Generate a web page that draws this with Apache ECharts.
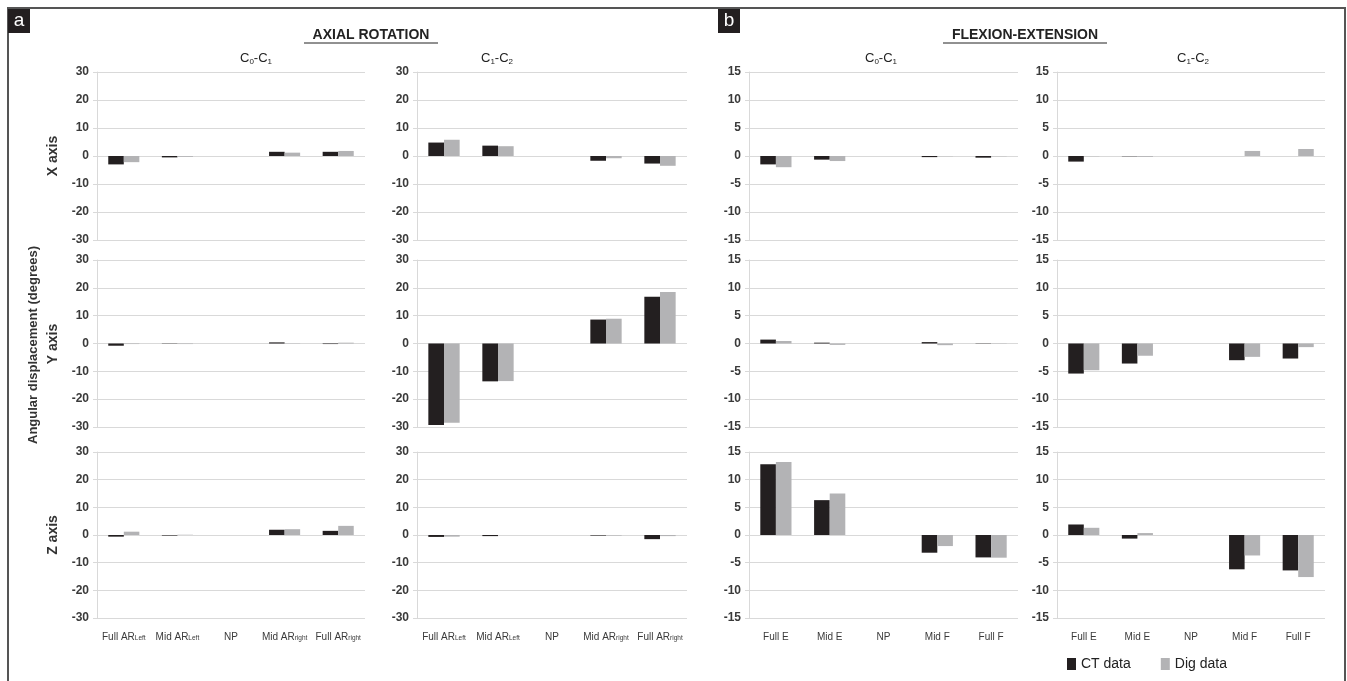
<!DOCTYPE html>
<html>
<head>
<meta charset="utf-8">
<script src="https://cdn.jsdelivr.net/npm/echarts@6/dist/echarts.min.js"></script>
<style>
html, body { margin: 0; padding: 0; background: #fff; }
#chart { width: 1347px; height: 681px; }
</style>
</head>
<body>
<div id="chart"></div>
<script>
// categories
var arCategories = ['Full AR_Left', 'Mid AR_Left', 'NP', 'Mid AR_right', 'Full AR_right']
var feCategories = ['Full E', 'Mid E', 'NP', 'Mid F', 'Full F']

// axial rotation, C0-C1
var arC01X_ct = [-3.0, -0.5, 0, 1.5, 1.5]
var arC01X_dig = [-2.2, -0.3, 0, 1.2, 1.8]
var arC01Y_ct = [-0.8, 0.1, 0, 0.4, -0.2]
var arC01Y_dig = [-0.2, -0.2, 0, -0.1, 0.3]
var arC01Z_ct = [-0.6, -0.2, 0, 1.9, 1.5]
var arC01Z_dig = [1.2, 0.1, 0, 2.1, 3.3]

// axial rotation, C1-C2
var arC12X_ct = [4.8, 3.7, 0, -1.7, -2.7]
var arC12X_dig = [5.8, 3.5, 0, -0.8, -3.5]
var arC12Y_ct = [-29.3, -13.6, 0, 8.6, 16.8]
var arC12Y_dig = [-28.5, -13.5, 0, 8.9, 18.5]
var arC12Z_ct = [-0.7, -0.4, 0, -0.2, -1.5]
var arC12Z_dig = [-0.6, 0, 0, -0.2, -0.4]

// flexion-extension, C0-C1
var feC01X_ct = [-1.5, -0.65, 0, -0.2, -0.3]
var feC01X_dig = [-2.0, -0.9, 0, -0.05, -0.05]
var feC01Y_ct = [0.7, 0.15, 0, 0.25, -0.05]
var feC01Y_dig = [0.45, -0.25, 0, -0.3, -0.05]
var feC01Z_ct = [12.8, 6.3, 0, -3.2, -4.05]
var feC01Z_dig = [13.2, 7.5, 0, -2.0, -4.1]

// flexion-extension, C1-C2
var feC12X_ct = [-1.0, -0.05, 0, 0, 0]
var feC12X_dig = [-0.05, -0.15, 0, 0.9, 1.25]
var feC12Y_ct = [-5.4, -3.6, 0, -3.0, -2.7]
var feC12Y_dig = [-4.8, -2.2, 0, -2.4, -0.65]
var feC12Z_ct = [1.9, -0.65, 0, -6.2, -6.4]
var feC12Z_dig = [1.3, 0.35, 0, -3.7, -7.6]

var CT_COLOR = '#231f20'
var DIG_COLOR = '#b3b3b5'
var GRID_COLOR = '#d9d9d9'
var TEXT_COLOR = '#3a3a3a'
var NARROW = '"Liberation Sans Narrow", "Liberation Sans", Arial, sans-serif'
var WIDE = '"Liberation Sans", Arial, sans-serif'

var colLeft = [97, 417, 749, 1057]
var colWidth = [268, 270, 269, 268]
var rowTop = [72, 260, 452]
var rowHeight = [168, 167, 166]

// col, row, categories, ct, dig, limit, step
var panels = [
  [0, 0, arCategories, arC01X_ct, arC01X_dig, 30, 10],
  [0, 1, arCategories, arC01Y_ct, arC01Y_dig, 30, 10],
  [0, 2, arCategories, arC01Z_ct, arC01Z_dig, 30, 10],
  [1, 0, arCategories, arC12X_ct, arC12X_dig, 30, 10],
  [1, 1, arCategories, arC12Y_ct, arC12Y_dig, 30, 10],
  [1, 2, arCategories, arC12Z_ct, arC12Z_dig, 30, 10],
  [2, 0, feCategories, feC01X_ct, feC01X_dig, 15, 5],
  [2, 1, feCategories, feC01Y_ct, feC01Y_dig, 15, 5],
  [2, 2, feCategories, feC01Z_ct, feC01Z_dig, 15, 5],
  [3, 0, feCategories, feC12X_ct, feC12X_dig, 15, 5],
  [3, 1, feCategories, feC12Y_ct, feC12Y_dig, 15, 5],
  [3, 2, feCategories, feC12Z_ct, feC12Z_dig, 15, 5]
]

function catLabel(v) {
  var p = v.split('_')
  return p.length > 1 ? p[0] + '{s|' + p[1] + '}' : v
}

var grids = [], xAxes = [], yAxes = [], series = []
panels.forEach(function(p, i) {
  var col = p[0], row = p[1]
  grids.push({
    left: colLeft[col], top: rowTop[row],
    width: colWidth[col], height: rowHeight[row]
  })
  xAxes.push({
    type: 'category',
    gridIndex: i,
    data: p[2],
    axisLine: {show: false, onZero: false},
    axisTick: {show: false},
    axisLabel: {
      show: row == 2,
      interval: 0,
      hideOverlap: false,
      margin: 14,
      fontSize: 10,
      fontFamily: NARROW,
      color: TEXT_COLOR,
      formatter: catLabel,
      rich: {
        s: {fontSize: 6.5, fontFamily: NARROW, color: TEXT_COLOR, verticalAlign: 'bottom', lineHeight: 6, padding: [4, 0, 0, 0]}
      }
    }
  })
  yAxes.push({
    type: 'value',
    gridIndex: i,
    min: -p[5], max: p[5], interval: p[6],
    axisLine: {show: true, lineStyle: {color: GRID_COLOR}},
    axisTick: {show: true, length: 4, lineStyle: {color: GRID_COLOR}},
    splitLine: {lineStyle: {color: GRID_COLOR, width: 1}},
    axisLabel: {fontSize: 12, fontWeight: 'bold', fontFamily: WIDE, color: TEXT_COLOR, margin: 8}
  })
  series.push({
    name: 'CT data', type: 'bar', xAxisIndex: i, yAxisIndex: i,
    data: p[3], itemStyle: {color: CT_COLOR},
    barGap: '0%', barCategoryGap: '42%'
  })
  series.push({
    name: 'Dig data', type: 'bar', xAxisIndex: i, yAxisIndex: i,
    data: p[4], itemStyle: {color: DIG_COLOR},
    barGap: '0%', barCategoryGap: '42%'
  })
})

var subRich = {
  m: {fontSize: 13, fontFamily: NARROW, fill: '#222', color: '#222', lineHeight: 16},
  s: {fontSize: 8, fontFamily: NARROW, fill: '#222', color: '#222', verticalAlign: 'bottom', lineHeight: 8, padding: [5, 0, 0, 0]}
}

function colTitle(x, a, b) {
  return {
    type: 'text', x: x, y: 58,
    style: {
      text: '{m|C}{s|' + a + '}{m|-C}{s|' + b + '}',
      rich: subRich, align: 'center', verticalAlign: 'middle'
    }
  }
}

function panelTag(x, letter) {
  return [
    {type: 'rect', shape: {x: x, y: 9, width: 22, height: 24}, style: {fill: '#231f20'}},
    {type: 'text', x: x + 11, y: 21, style: {text: letter, fill: '#fff', font: '19px ' + WIDE, align: 'center', verticalAlign: 'middle'}}
  ]
}

function sideLabel(x, y, text, size) {
  return {
    type: 'text', x: x, y: y, rotation: Math.PI / 2,
    style: {text: text, fill: '#333', font: 'bold ' + size + 'px ' + WIDE, align: 'center', verticalAlign: 'middle'}
  }
}

var graphics = [
  {type: 'rect', shape: {x: 8, y: 8, width: 1337, height: 700}, style: {fill: 'none', stroke: '#555', lineWidth: 2}},
  {type: 'text', x: 371, y: 35, style: {text: 'AXIAL ROTATION', fill: '#222', font: 'bold 14px ' + NARROW, align: 'center', verticalAlign: 'middle'}},
  {type: 'line', shape: {x1: 304, y1: 43, x2: 438, y2: 43}, style: {stroke: '#222', lineWidth: 1}},
  {type: 'text', x: 1025, y: 35, style: {text: 'FLEXION-EXTENSION', fill: '#222', font: 'bold 14px ' + NARROW, align: 'center', verticalAlign: 'middle'}},
  {type: 'line', shape: {x1: 943, y1: 43, x2: 1107, y2: 43}, style: {stroke: '#222', lineWidth: 1}},
  colTitle(256, '0', '1'),
  colTitle(497, '1', '2'),
  colTitle(881, '0', '1'),
  colTitle(1193, '1', '2'),
  sideLabel(33, 345, 'Angular displacement (degrees)', 13),
  sideLabel(53, 156, 'X axis', 14),
  sideLabel(53, 344, 'Y axis', 14),
  sideLabel(53, 535, 'Z axis', 14)
].concat(panelTag(8, 'a'), panelTag(718, 'b'))

var chart = echarts.init(document.getElementById('chart'))
chart.setOption({
  animation: false,
  backgroundColor: '#fff',
  grid: grids,
  xAxis: xAxes,
  yAxis: yAxes,
  series: series,
  legend: {
    data: ['CT data', 'Dig data'],
    left: 1062, top: 652,
    icon: 'rect', itemWidth: 9, itemHeight: 12, itemGap: 30,
    textStyle: {fontSize: 14, fontFamily: NARROW, color: '#222'}
  },
  graphic: graphics
})
</script>
</body>
</html>
